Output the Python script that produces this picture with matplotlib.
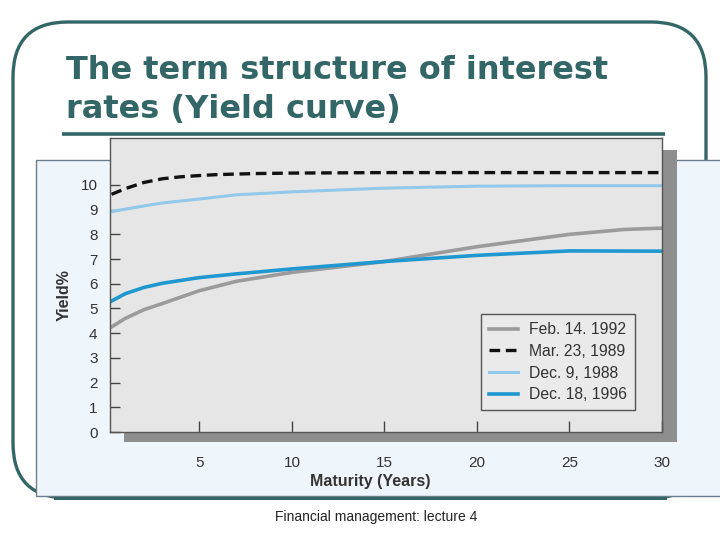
import matplotlib.pyplot as plt
from matplotlib.patches import FancyBboxPatch, Rectangle

# yield curves (maturity in years, yield in %)
mat_feb92 = [0.25, 1, 2, 3, 5, 7, 10, 15, 20, 25, 28, 30]
yld_feb92 = [4.25, 4.6, 4.95, 5.2, 5.72, 6.1, 6.46, 6.9, 7.5, 8.0, 8.2, 8.25]

mat_mar89 = [0.25, 1, 2, 3, 4, 5, 6, 8, 10, 15, 20, 25, 30]
yld_mar89 = [9.62, 9.85, 10.1, 10.25, 10.33, 10.38, 10.42, 10.46, 10.48, 10.5, 10.5, 10.5, 10.5]

mat_dec88 = [0.25, 1, 2, 3, 5, 7, 10, 15, 20, 25, 30]
yld_dec88 = [8.92, 9.02, 9.15, 9.27, 9.43, 9.6, 9.72, 9.87, 9.95, 9.97, 9.97]

mat_dec96 = [0.25, 1, 2, 3, 5, 7, 10, 15, 20, 25, 30]
yld_dec96 = [5.3, 5.6, 5.85, 6.02, 6.25, 6.4, 6.6, 6.9, 7.15, 7.33, 7.32]

labels = ["Feb. 14. 1992", "Mar. 23, 1989", "Dec. 9, 1988", "Dec. 18, 1996"]
x_ticks = [5, 10, 15, 20, 25, 30]
y_ticks = list(range(0, 11))

teal = "#336666"
W, H = 720, 540

plt.rcParams["font.family"] = ["Liberation Sans", "DejaVu Sans"]
fig = plt.figure(figsize=(7.2, 5.4), dpi=100)

# background layer in pixel coordinates (y grows downwards)
bg = fig.add_axes([0, 0, 1, 1])
bg.set_xlim(0, W)
bg.set_ylim(H, 0)
bg.axis("off")

# slide frame
bg.add_patch(FancyBboxPatch((13, 22), 693, 476, boxstyle="round,pad=0,rounding_size=55",
                            fc="white", ec=teal, lw=2.4))

# title + rule
title_kw = dict(color=teal, fontsize=23, fontweight="bold", va="baseline",
                family="DejaVu Sans")
bg.text(66, 79, "The term structure of interest", **title_kw)
bg.text(66, 118, "rates (Yield curve)", **title_kw)
bg.plot([62, 665], [134, 134], color=teal, lw=2.6, solid_capstyle="butt")

# light panel behind the chart
bg.add_patch(Rectangle((36, 160), 700, 336, fc="#EEF5FB", ec="#6E7E8C", lw=1))
bg.plot([55, 665], [498, 498], color=teal, lw=2.2)

# drop shadow of the plot box
bg.add_patch(Rectangle((124, 150), 553, 292, fc="#8E8E8E", ec="none"))

# footer
bg.text(376, 517, "Financial management: lecture 4", fontsize=10, color="#222222",
        ha="center", va="center")

# the chart itself
left, right, top, bottom = 110, 662, 138, 432
ax = fig.add_axes([left / W, 1 - bottom / H, (right - left) / W, (bottom - top) / H])
ax.set_facecolor("#E6E6E6")

ax.plot(mat_feb92, yld_feb92, color="#9B9B9B", lw=2.6, label=labels[0])
ax.plot(mat_mar89, yld_mar89, color="#111111", lw=2.4, ls=(0, (3.2, 1.7)), label=labels[1])
ax.plot(mat_dec88, yld_dec88, color="#92C8EA", lw=2.2, label=labels[2])
ax.plot(mat_dec96, yld_dec96, color="#1F98CF", lw=2.6, label=labels[3])

ax.set_xlim(0.17, 30)
ax.set_ylim(0, 11.9)
ax.set_xticks(x_ticks)
ax.set_yticks(y_ticks)
ax.tick_params(axis="x", direction="in", length=8, width=1, color="#444444",
               pad=17, labelsize=11, labelcolor="#333333")
ax.tick_params(axis="y", direction="in", length=7, width=1, color="#444444",
               pad=9, labelsize=11, labelcolor="#333333")
for s in ax.spines.values():
    s.set_color("#555555")
    s.set_linewidth(1)

ax.set_xlabel("Maturity (Years)", fontsize=11.5, fontweight="bold", color="#333333")
ax.xaxis.set_label_coords((370 - left) / (right - left), (bottom - 474) / (bottom - top))
ax.set_ylabel("Yield%", fontsize=11.5, fontweight="bold", color="#333333")
ax.yaxis.set_label_coords((72 - left) / (right - left), (bottom - 295) / (bottom - top))

leg = ax.legend(loc="lower left", bbox_to_anchor=(0.673, 0.075), borderaxespad=0,
                fontsize=11.3, handlelength=1.8, handletextpad=0.75, labelspacing=0.42,
                borderpad=0.5, fancybox=False, framealpha=1)
leg.get_frame().set_facecolor("#EAEAEA")
leg.get_frame().set_edgecolor("#555555")
leg.get_frame().set_linewidth(1)
for t in leg.get_texts():
    t.set_color("#333333")

fig.savefig("out.png", dpi=100)
